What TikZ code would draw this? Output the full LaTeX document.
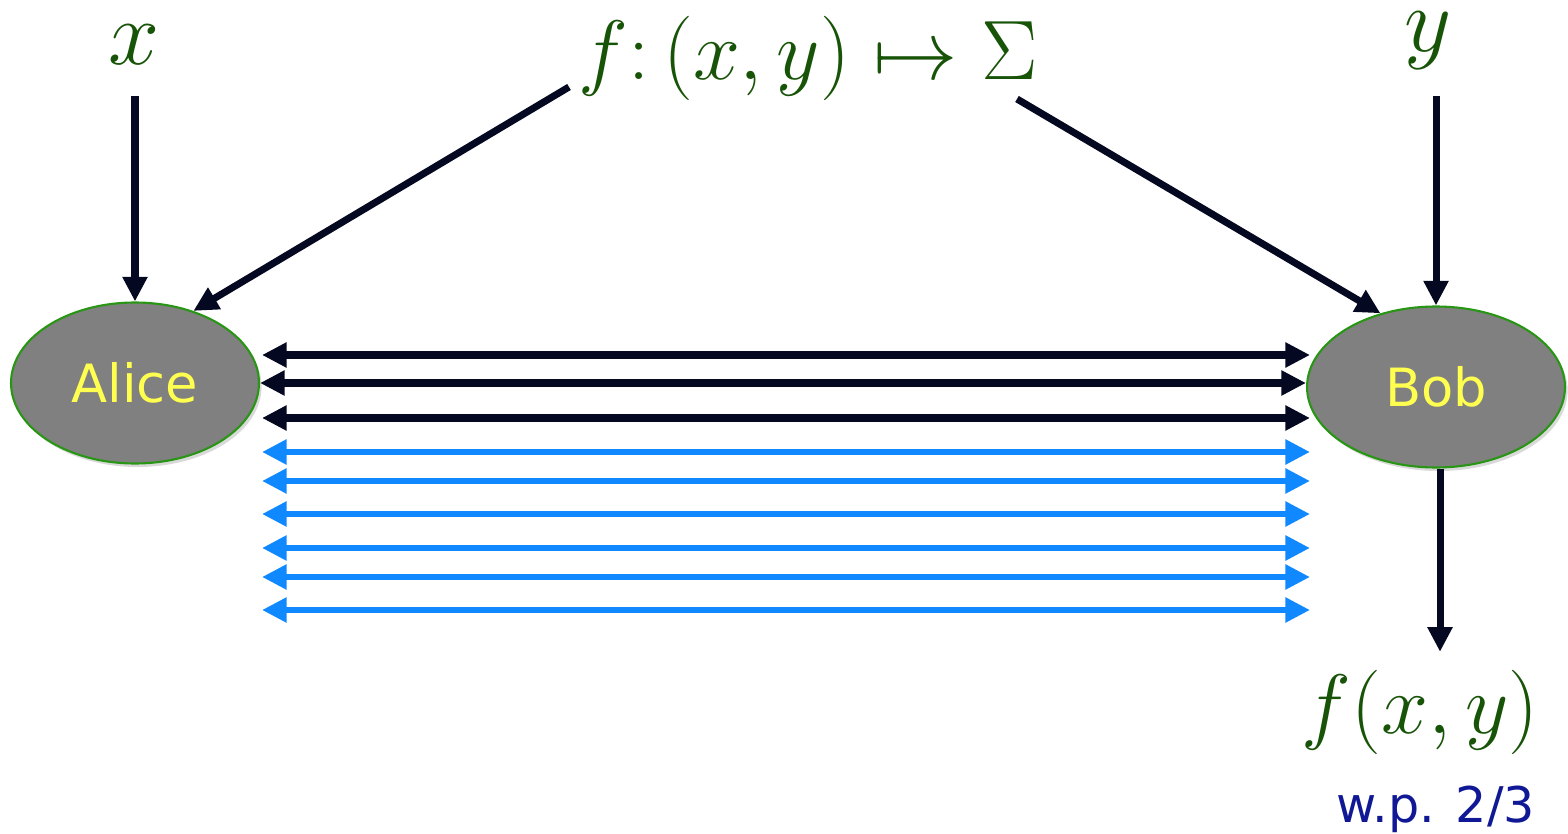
\documentclass[tikz,border=0pt]{standalone}
\usepackage{amsmath}
\usepackage{fontspec}
\newfontfamily\labelfont{DejaVu Sans}
\usetikzlibrary{arrows.meta,shapes.geometric,shadows}
\definecolor{mathgreen}{RGB}{24,84,8}
\definecolor{arrowdark}{RGB}{4,8,32}
\definecolor{arrowblue}{RGB}{16,136,255}
\definecolor{partyfill}{RGB}{128,128,128}
\definecolor{partyedge}{RGB}{40,150,20}
\definecolor{nameyellow}{RGB}{255,255,80}
\definecolor{probblue}{RGB}{16,24,150}
\newcommand{\bigmath}[2][1.93]{\scalebox{#1}{\Huge$#2$}}

\begin{document}
\begin{tikzpicture}[
    x=0.02cm, y=-0.02cm,
    line width=4pt,
    math/.style={
        text=mathgreen,
        inner sep=0pt,
        anchor=base
    },
    party/.style={
        ellipse,
        draw=partyedge,
        line width=1.2pt,
        fill=partyfill,
        minimum height=3.22cm,
        text=nameyellow,
        font={\labelfont\fontsize{30}{30}\selectfont},
        drop shadow={opacity=0.3, shadow xshift=1.5pt, shadow yshift=-2pt}
    },
    flow/.style={-{Triangle[length=14pt,width=13.5pt]}, draw=arrowdark},
    talk/.style={{Triangle[length=14pt,width=13.5pt]}-{Triangle[length=14pt,width=13.5pt]}, draw=arrowdark},
    bluetalk/.style={talk, draw=arrowblue, line width=3.6pt}
]
\useasboundingbox (0,0) rectangle (1568,834);

\node[party, minimum width=4.96cm] (alice) at (135,383) {Alice};
\node[party, minimum width=5.16cm] (bob) at (1436,387) {Bob};

\node[math] (xin) at (134,65) {\bigmath[2.1]{x}};
\node[math] (yin) at (1428,52) {\bigmath[2.1]{y}};
\node[math] (fmap) at (808,80) {\bigmath{f{:}\,(x,y)\mapsto\Sigma}};
\node[math] (fxy) at (1420,733) {\bigmath{f(x,y)}};
\node[anchor=base, text=probblue, font={\labelfont\fontsize{28}{28}\selectfont}] (prob) at (1436,822) {w.p. 2/3};

\coordinate (ftail1) at (569,87);
\coordinate (ftail2) at (1017,99);

\draw[flow, shorten <=0.54cm] (alice.north |- xin.south) -- (alice.north);
\draw[flow] (ftail1) -- (alice.51);
\draw[flow] (ftail2) -- (bob.127);
\draw[flow, shorten <=0.46cm] (bob.north |- yin.south) -- (bob.north);
\draw[flow, shorten >=0.29cm] ([xshift=0.08cm]bob.south) -- ([xshift=0.08cm]bob.south |- fxy.north);

\coordinate (tl1) at (262,355);
\coordinate (tr1) at (1310,355);
\coordinate (tl3) at (262,418);
\coordinate (tr3) at (1310,418);
\draw[talk] (tl1) -- (tr1);
\draw[talk] (alice.east) -- (alice.east -| bob.west);
\draw[talk] (tl3) -- (tr3);

\foreach \yy [count=\i] in {452,481,514,548,577,610} {
    \coordinate (bl\i) at (262,\yy);
    \coordinate (br\i) at (1310,\yy);
    \draw[bluetalk] (bl\i) -- (br\i);
}

\end{tikzpicture}
\end{document}
